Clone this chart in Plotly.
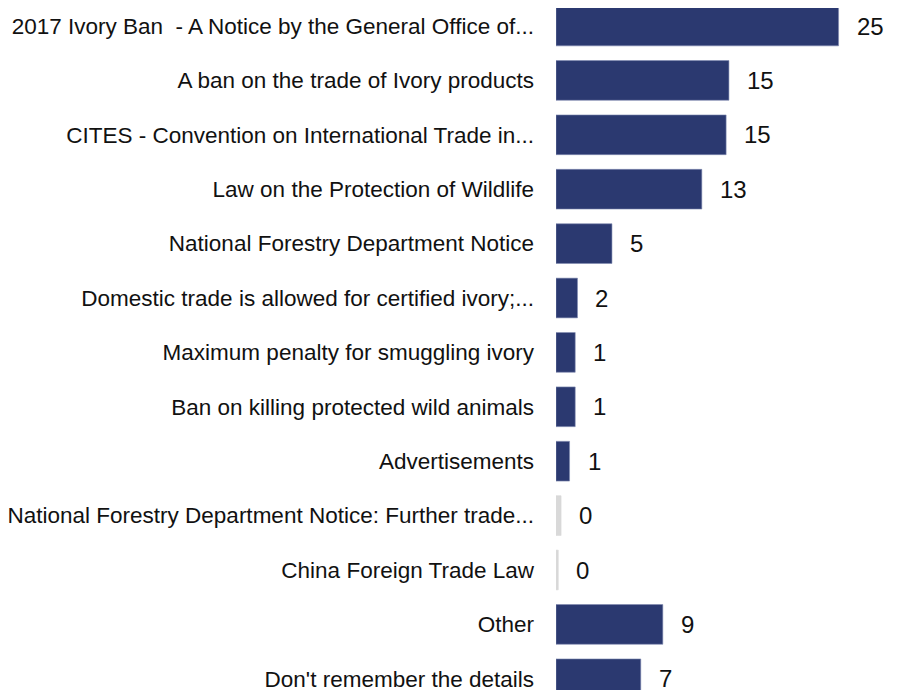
import plotly.graph_objects as go

categories = [
    "2017 Ivory Ban  - A Notice by the General Office of...",
    "A ban on the trade of Ivory products",
    "CITES - Convention on International Trade in...",
    "Law on the Protection of Wildlife",
    "National Forestry Department Notice",
    "Domestic trade is allowed for certified ivory;...",
    "Maximum penalty for smuggling ivory",
    "Ban on killing protected wild animals",
    "Advertisements",
    "National Forestry Department Notice: Further trade...",
    "China Foreign Trade Law",
    "Other",
    "Don't remember the details",
]
values = [25.0, 15.3, 15.05, 12.9, 4.95, 1.9, 1.7, 1.7, 1.2, 0.45, 0.2, 9.45, 7.5]
value_labels = ["25", "15", "15", "13", "5", "2", "1", "1", "1", "0", "0", "9", "7"]

NAVY = "#2B3970"
GREY = "#D9D9D9"
colors = [GREY if lab == "0" else NAVY for lab in value_labels]
line_colors = [GREY if lab == "0" else "#7F8AB0" for lab in value_labels]

fig = go.Figure(
    go.Bar(
        x=values,
        y=categories,
        orientation="h",
        marker=dict(color=colors, line=dict(color=line_colors, width=0.6)),
        width=0.73,
        hoverinfo="skip",
    )
)

for cat, v, lab in zip(categories, values, value_labels):
    fig.add_annotation(
        x=v, y=cat, text=lab, showarrow=False,
        xanchor="left", xshift=16, yanchor="middle",
        font=dict(family="Liberation Sans, Arial, sans-serif", size=24, color="#111111"),
    )

fig.update_layout(
    width=895, height=682,
    margin=dict(l=548, r=0, t=0, b=0, autoexpand=False),
    paper_bgcolor="white", plot_bgcolor="white",
    showlegend=False,
    font=dict(family="Liberation Sans, Arial, sans-serif", size=18, color="#111111"),
    xaxis=dict(range=[0, 30.7], visible=False, fixedrange=True, automargin=False),
    yaxis=dict(
        categoryorder="array", categoryarray=categories,
        range=[12.206, -0.331],
        automargin=False,
        showgrid=False, zeroline=False, showline=False,
        ticks="", ticklabelstandoff=21,
        tickfont=dict(size=22.5),
    ),
)

fig.write_html("out.html")
